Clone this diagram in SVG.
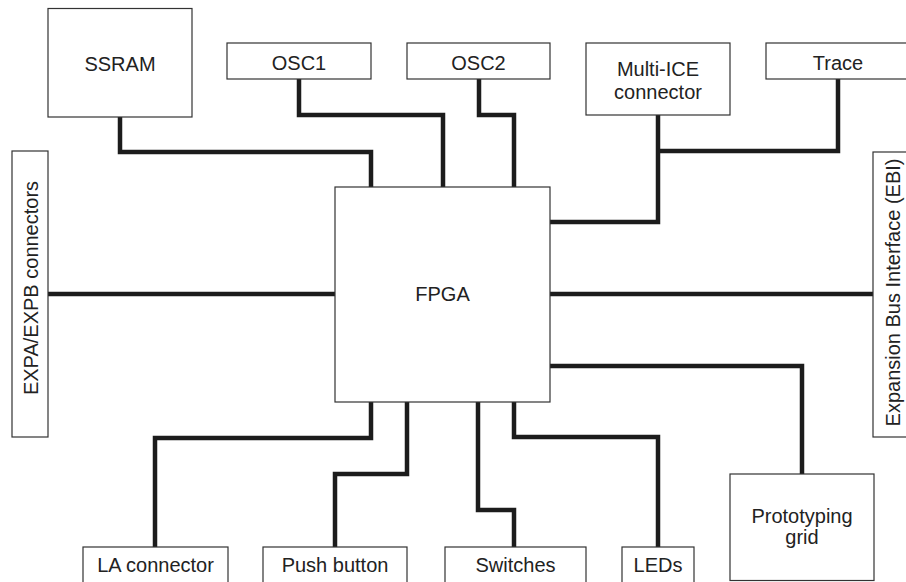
<svg xmlns="http://www.w3.org/2000/svg" width="906" height="582" viewBox="0 0 906 582">
  <style>
    .box { fill: #ffffff; stroke: #333333; stroke-width: 1.2; }
    .lbl { font-family: "Liberation Sans", Arial, Helvetica, sans-serif; font-size: 20px; fill: #222222; text-anchor: middle; }
    .wire { fill: none; stroke: #1c1c1c; stroke-width: 4.5; stroke-linejoin: miter; stroke-linecap: butt; }
  </style>
  <rect x="0" y="0" width="906" height="582" fill="#ffffff"/>

  <!-- connectors -->
  <g id="connectors">
    <polyline class="wire" points="120,117 120,152 371,152 371,187"/>
    <polyline class="wire" points="299,79 299,115 443,115 443,187"/>
    <polyline class="wire" points="479,79 479,115 514,115 514,187"/>
    <polyline class="wire" points="658,115 658,222 550,222"/>
    <polyline class="wire" points="658,151 838,151 838,79"/>
    <polyline class="wire" points="48,294 335,294"/>
    <polyline class="wire" points="550,294 873,294"/>
    <polyline class="wire" points="550,366 802,366 802,474"/>
    <polyline class="wire" points="371,402 371,438 155,438 155,547"/>
    <polyline class="wire" points="407,402 407,474 335,474 335,547"/>
    <polyline class="wire" points="478,402 478,510 514,510 514,547"/>
    <polyline class="wire" points="514,402 514,437 658,437 658,547"/>
  </g>

  <!-- top row -->
  <g id="ssram">
    <rect class="box" x="48" y="8.5" width="144" height="108.5"/>
    <text class="lbl" x="120" y="70.5">SSRAM</text>
  </g>
  <g id="osc1">
    <rect class="box" x="227" y="43" width="144" height="36"/>
    <text class="lbl" x="299" y="70">OSC1</text>
  </g>
  <g id="osc2">
    <rect class="box" x="407" y="43" width="143" height="36"/>
    <text class="lbl" x="478.5" y="70">OSC2</text>
  </g>
  <g id="multi-ice">
    <rect class="box" x="586" y="43" width="144" height="72"/>
    <text class="lbl" x="658" y="76">Multi-ICE</text>
    <text class="lbl" x="658" y="98.5">connector</text>
  </g>
  <g id="trace">
    <rect class="box" x="766" y="43" width="150" height="36"/>
    <text class="lbl" x="838" y="69.5">Trace</text>
  </g>

  <!-- side connectors -->
  <g id="expa-expb">
    <rect class="box" x="12" y="151" width="36" height="286"/>
    <text class="lbl" transform="translate(37.5,288) rotate(-90)">EXPA/EXPB connectors</text>
  </g>
  <g id="ebi">
    <rect class="box" x="873" y="152" width="40" height="285"/>
    <text class="lbl" transform="translate(899.5,292.5) rotate(-90)">Expansion Bus Interface (EBI)</text>
  </g>

  <!-- centre -->
  <g id="fpga">
    <rect class="box" x="335" y="187" width="215" height="215"/>
    <text class="lbl" x="442.5" y="301">FPGA</text>
  </g>

  <!-- bottom row -->
  <g id="la-connector">
    <rect class="box" x="83" y="547" width="145" height="40"/>
    <text class="lbl" x="155.5" y="572">LA connector</text>
  </g>
  <g id="push-button">
    <rect class="box" x="263" y="547" width="144" height="40"/>
    <text class="lbl" x="335" y="572">Push button</text>
  </g>
  <g id="switches">
    <rect class="box" x="445" y="547" width="141" height="40"/>
    <text class="lbl" x="515.5" y="572">Switches</text>
  </g>
  <g id="leds">
    <rect class="box" x="622" y="547" width="72" height="40"/>
    <text class="lbl" x="658" y="572">LEDs</text>
  </g>
  <g id="prototyping-grid">
    <rect class="box" x="730" y="474" width="144" height="106.5"/>
    <text class="lbl" x="802" y="523">Prototyping</text>
    <text class="lbl" x="802" y="543.5">grid</text>
  </g>
</svg>
